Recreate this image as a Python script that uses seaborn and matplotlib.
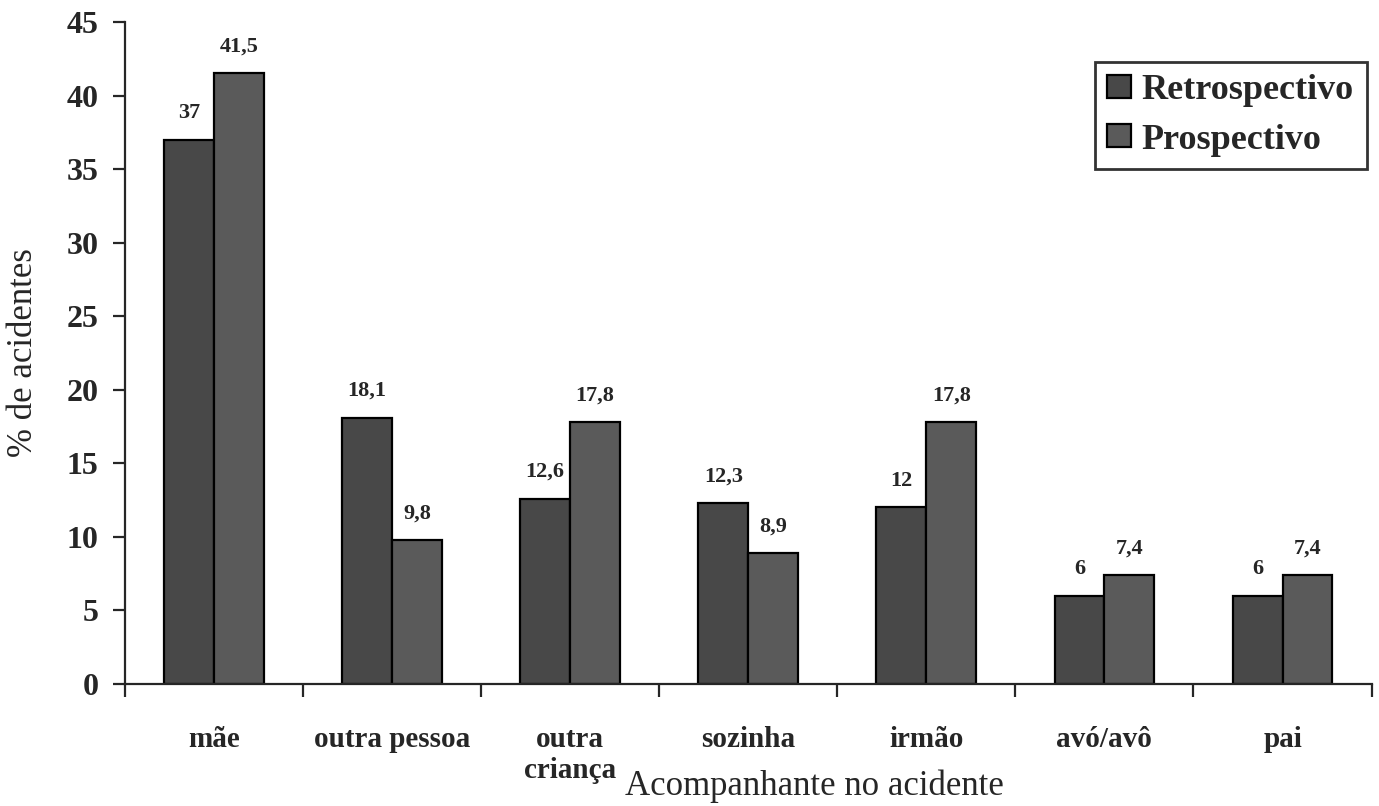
import matplotlib
matplotlib.use("Agg")
import matplotlib.pyplot as plt
import seaborn as sns
import pandas as pd
import numpy as np

categorias = ["mãe", "outra pessoa", "outra\ncriança", "sozinha", "irmão", "avó/avô", "pai"]
retrospectivo = [37, 18.1, 12.6, 12.3, 12, 6, 6]
prospectivo = [41.5, 9.8, 17.8, 8.9, 17.8, 7.4, 7.4]
series = ["Retrospectivo", "Prospectivo"]
cores = ["#484848", "#5a5a5a"]

df = pd.DataFrame({
    "categoria": categorias * 2,
    "valor": retrospectivo + prospectivo,
    "serie": [series[0]] * len(categorias) + [series[1]] * len(categorias),
})

sns.set_style("ticks")
plt.rcParams["font.family"] = ["Liberation Serif", "DejaVu Serif"]

fig = plt.figure(figsize=(13.79, 8.06), dpi=100)
ax = fig.add_axes([0.0906, 0.1514, 0.904, 0.8213])

sns.barplot(data=df, x="categoria", y="valor", hue="serie", order=categorias,
            hue_order=series, palette=cores, width=0.56, edgecolor="black",
            linewidth=1.6, saturation=1, ax=ax)

# rótulos de valor
for cont in ax.containers:
    labels = [("%g" % b.get_height()).replace(".", ",") for b in cont]
    ax.bar_label(cont, labels=labels, padding=12, fontsize=16, fontweight="bold")

ax.set_xlim(-0.5, len(categorias) - 0.5)
ax.set_ylim(0, 45)
ax.set_yticks(np.arange(0, 46, 5))

sns.despine(ax=ax)
ax.spines["left"].set_linewidth(1.6)
ax.spines["bottom"].set_linewidth(1.6)

ax.set_xticks(np.arange(-0.5, len(categorias), 1), minor=True)
ax.tick_params(axis="x", which="major", bottom=True, length=0, pad=30, labelsize=21)
ax.tick_params(axis="x", which="minor", bottom=True, length=9, width=1.6, direction="out")
ax.tick_params(axis="y", left=True, length=9, width=1.6, direction="out", pad=10, labelsize=23)
for t in ax.get_xticklabels() + ax.get_yticklabels():
    t.set_fontweight("bold")

ax.set_ylabel("% de acidentes", fontsize=25)
ax.yaxis.label.set_va("center")
ax.yaxis.set_label_coords(-0.081, 0.5)
ax.set_xlabel("Acompanhante no acidente", fontsize=25)
ax.xaxis.label.set_va("center")
ax.xaxis.set_label_coords(0.553, -0.155)

leg = ax.legend(loc="upper right", bbox_to_anchor=(0.996, 0.94), frameon=True,
                fancybox=False, edgecolor="black", prop={"size": 26, "weight": "bold"},
                handlelength=0.65, handleheight=0.6, handletextpad=0.3,
                labelspacing=0.45, borderpad=0.35, borderaxespad=0, title=None)
leg.get_frame().set_linewidth(2)

fig.savefig("out.png", dpi=100)
